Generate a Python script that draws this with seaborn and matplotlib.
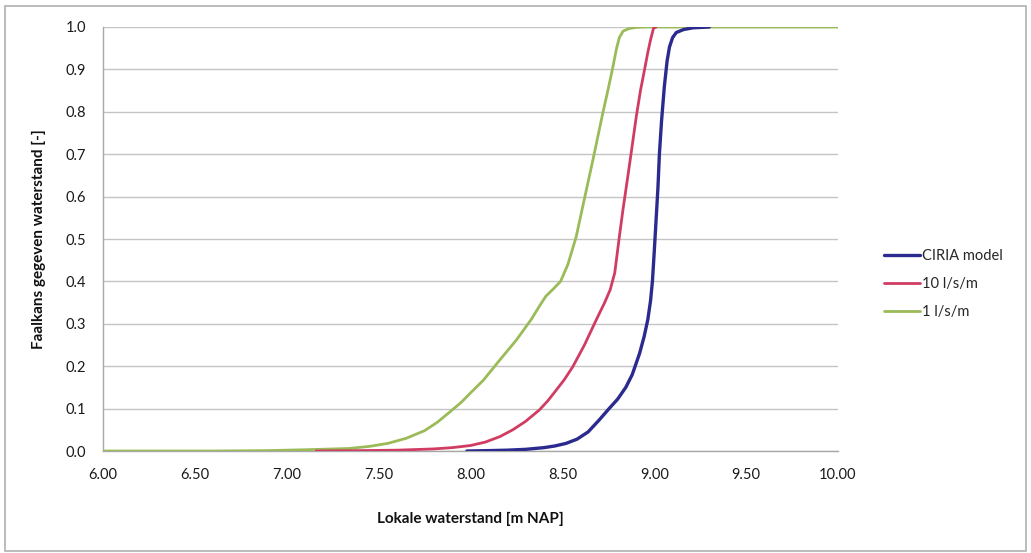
import seaborn as sns
import matplotlib.pyplot as plt
from matplotlib.patches import Rectangle

# faalkans curves
ciria_x = [7.98, 8.1, 8.2, 8.3, 8.4, 8.46, 8.52, 8.58, 8.64, 8.70, 8.75, 8.80, 8.845, 8.88, 8.92, 8.945, 8.965, 8.98,
           8.99, 9.0, 9.01, 9.02, 9.028, 9.04, 9.055, 9.07, 9.083, 9.10, 9.12, 9.16, 9.21, 9.3]
ciria_y = [0.0, 0.001, 0.002, 0.004, 0.008, 0.012, 0.018, 0.028, 0.045, 0.073, 0.098, 0.122, 0.15, 0.18, 0.23, 0.27, 0.31, 0.355,
           0.40, 0.47, 0.545, 0.62, 0.70, 0.78, 0.86, 0.92, 0.953, 0.975, 0.987, 0.994, 0.998, 1.0]

q10_x = [7.16, 7.4, 7.6, 7.8, 7.9, 8.0, 8.08, 8.16, 8.23, 8.3, 8.375, 8.42, 8.46, 8.51, 8.557, 8.62, 8.684, 8.73, 8.76,
         8.785, 8.81, 8.83, 8.856, 8.88, 8.902, 8.925, 8.947, 8.965, 8.98, 8.996, 9.01]
q10_y = [0.0, 0.001, 0.002, 0.005, 0.008, 0.013, 0.021, 0.034, 0.05, 0.07, 0.097, 0.118, 0.14, 0.168, 0.199, 0.25, 0.309, 0.35, 0.38,
         0.42, 0.505, 0.57, 0.647, 0.72, 0.788, 0.85, 0.899, 0.94, 0.97, 0.997, 1.0]

q1_x = [6.0, 6.6, 6.9, 7.1, 7.34, 7.45, 7.55, 7.65, 7.75, 7.82, 7.89, 7.95, 8.0, 8.07, 8.16, 8.25, 8.33, 8.38, 8.41, 8.45,
        8.49, 8.53, 8.575, 8.62, 8.666, 8.72, 8.75, 8.775, 8.795, 8.81, 8.83, 8.86, 8.9, 8.95, 10.0]
q1_y = [0.0, 0.0, 0.001, 0.003, 0.006, 0.011, 0.018, 0.03, 0.048, 0.068, 0.093, 0.115, 0.137, 0.167, 0.215, 0.262, 0.31, 0.345, 0.365, 0.382,
        0.40, 0.44, 0.505, 0.595, 0.686, 0.797, 0.855, 0.906, 0.95, 0.975, 0.99, 0.996, 0.999, 1.0, 1.0]

x_ticks = [6.0, 6.5, 7.0, 7.5, 8.0, 8.5, 9.0, 9.5, 10.0]
y_ticks = [0.0, 0.1, 0.2, 0.3, 0.4, 0.5, 0.6, 0.7, 0.8, 0.9, 1.0]

sns.set_style("white")
plt.rcParams['font.family'] = ['Lato', 'DejaVu Sans']

fig = plt.figure(figsize=(10.31, 5.53), dpi=100)
ax = fig.add_axes([0.0999, 0.1844, 0.7129, 0.7668])

# chart area border
fig.patches.append(Rectangle((0.005, 0.004), 0.99, 0.985, transform=fig.transFigure,
                             fill=False, edgecolor='#b0b0b0', linewidth=1.2))

for y in y_ticks:
    ax.axhline(y, color='#c4c4c4', linewidth=1.0, zorder=0)

sns.lineplot(x=q1_x, y=q1_y, ax=ax, color='#9bbb59', linewidth=2.0, sort=False, estimator=None, label='1 l/s/m', zorder=3)
sns.lineplot(x=q10_x, y=q10_y, ax=ax, color='#d03c62', linewidth=2.0, sort=False, estimator=None, label='10 l/s/m', zorder=4)
sns.lineplot(x=ciria_x, y=ciria_y, ax=ax, color='#2b2a8e', linewidth=2.4, sort=False, estimator=None, label='CIRIA model', zorder=5)

ax.set_xlim(6.0, 10.0)
ax.set_ylim(0.0, 1.0)
ax.set_xticks(x_ticks)
ax.set_xticklabels(['%.2f' % v for v in x_ticks])
ax.set_yticks(y_ticks)
ax.set_yticklabels(['%.1f' % v for v in y_ticks])
ax.tick_params(axis='both', labelsize=10.5, colors='#9a9a9a', labelcolor='#1a1a1a',
               direction='out', length=4, width=1)
ax.tick_params(axis='x', pad=8)
ax.tick_params(axis='y', pad=8)

for side in ['top', 'right']:
    ax.spines[side].set_visible(False)
for side in ['left', 'bottom']:
    ax.spines[side].set_color('#a8a8a8')
    ax.spines[side].set_linewidth(1.0)

ax.set_xlabel('Lokale waterstand [m NAP]', fontsize=11, fontweight='bold', labelpad=22, color='#111111')
ax.set_ylabel('Faalkans gegeven waterstand [-]', fontsize=11, fontweight='bold', labelpad=14, color='#111111')

handles, labels = ax.get_legend_handles_labels()
ax.legend(handles[::-1], labels[::-1], loc='center left', bbox_to_anchor=(1.062, 0.394),
          frameon=False, fontsize=10.5, handlelength=2.5, handletextpad=0.15,
          labelspacing=0.95, borderpad=0, borderaxespad=0)

plt.savefig('out.png', dpi=100)
